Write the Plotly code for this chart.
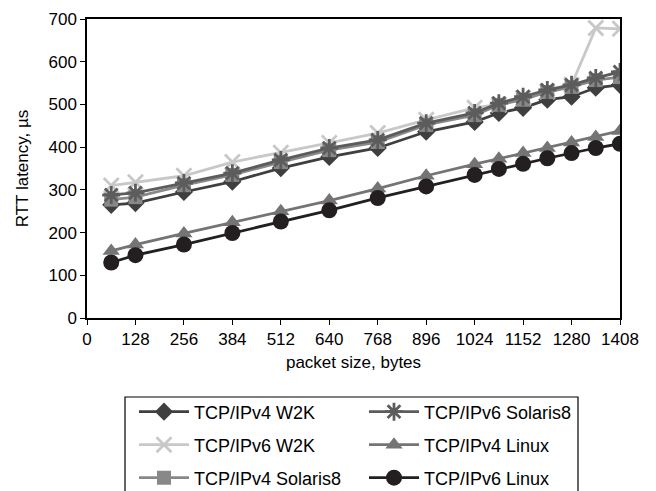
import plotly.graph_objects as go

packet_size = [64, 128, 256, 384, 512, 640, 768, 896, 1024, 1088, 1152, 1216, 1280, 1344, 1408]
x_ticks = [0, 128, 256, 384, 512, 640, 768, 896, 1024, 1152, 1280, 1408]

ipv4_w2k = [265, 269, 295, 319, 351, 377, 398, 436, 459, 480, 492, 511, 518, 539, 546]
ipv6_w2k = [310, 318, 333, 365, 387, 410, 433, 464, 492, 500, 515, 530, 546, 679, 677]
ipv4_sol = [277, 283, 311, 335, 365, 393, 412, 452, 475, 499, 511, 529, 541, 557, 564]
ipv6_sol = [288, 293, 316, 339, 370, 398, 417, 456, 480, 503, 518, 534, 546, 562, 576]
ipv4_lin = [157, 172, 198, 224, 250, 275, 303, 333, 360, 373, 386, 398, 411, 424, 438]
ipv6_lin = [130, 147, 172, 199, 226, 252, 281, 308, 335, 349, 361, 374, 386, 398, 408]

FONT = "Liberation Sans, Arial, sans-serif"
FS = 17

series = [
    ("TCP/IPv4 W2K", ipv4_w2k, "#3f3f3f", "diamond", 14, "legend"),
    ("TCP/IPv6 W2K", ipv6_w2k, "#c8c8c8", "x-thin-open", 15, "legend2"),
    ("TCP/IPv4 Solaris8", ipv4_sol, "#888888", "square", 14, "legend3"),
    ("TCP/IPv6 Solaris8", ipv6_sol, "#5c5c5c", "asterisk-open", 15, "legend"),
    ("TCP/IPv4 Linux", ipv4_lin, "#747474", "triangle-up", 15, "legend2"),
    ("TCP/IPv6 Linux", ipv6_lin, "#231f20", "circle", 16, "legend3"),
]

fig = go.Figure()
for name, vals, col, sym, size, leg in series:
    thin = sym.endswith("-open")
    fig.add_trace(go.Scatter(
        x=packet_size, y=vals, name=name, mode="lines+markers",
        line=dict(color=col, width=2.8),
        marker=dict(symbol=sym, size=size, color=col,
                    line=dict(color=col, width=2.8 if thin else 0)),
        legend=leg,
    ))

W, H = 656, 491
L, R, T, B = 87, 36, 19, 173
pw, ph = W - L - R, H - T - B

def px_x(p):
    return (p - L) / pw

def px_y(p):
    return (H - B - p) / ph

leg_common = dict(orientation="h", font=dict(family=FONT, size=18, color="#000"),
                  entrywidth=165, entrywidthmode="pixels", itemwidth=50,
                  xanchor="left", yanchor="middle", bgcolor="rgba(0,0,0,0)")

fig.update_layout(
    width=W, height=H,
    margin=dict(l=L, r=R, t=T, b=B, autoexpand=False),
    paper_bgcolor="white", plot_bgcolor="white",
    font=dict(family=FONT, size=FS, color="#000"),
    showlegend=True,
    legend=dict(x=px_x(134), y=px_y(412), **leg_common),
    legend2=dict(x=px_x(134), y=px_y(445), **leg_common),
    legend3=dict(x=px_x(134), y=px_y(478), **leg_common),
    xaxis=dict(
        range=[0, 1408], tickvals=x_ticks, ticktext=[str(v) for v in x_ticks],
        showline=True, linecolor="#000", linewidth=1.5, mirror=True,
        ticks="outside", ticklen=5, tickcolor="#000", tickwidth=1.2,
        showgrid=False, zeroline=False, automargin=False,
        tickfont=dict(family=FONT, size=FS),
        title=dict(text="packet size, bytes", font=dict(family=FONT, size=FS), standoff=8),
    ),
    yaxis=dict(
        range=[0, 700], dtick=100,
        showline=True, linecolor="#000", linewidth=1.5, mirror=True,
        ticks="outside", ticklen=5, tickcolor="#000", tickwidth=1.2,
        showgrid=False, zeroline=False, automargin=False,
        tickfont=dict(family=FONT, size=FS),
        title=dict(text="RTT latency, µs", font=dict(family=FONT, size=FS), standoff=16),
    ),
    shapes=[dict(type="rect", xref="paper", yref="paper",
                 x0=px_x(125), x1=px_x(578), y0=px_y(397), y1=px_y(505),
                 line=dict(color="#000", width=1.2), fillcolor="rgba(0,0,0,0)")],
)

fig.write_html("out.html")
